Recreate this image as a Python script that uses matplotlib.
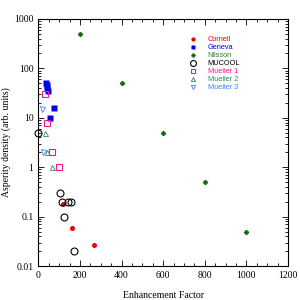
import numpy as np
import matplotlib.pyplot as plt
from matplotlib.ticker import MultipleLocator, LogLocator, NullFormatter

# Cornell
cornell_x = [117, 160, 268]
cornell_y = [0.18, 0.06, 0.027]
# Geneva
geneva_x = [38, 40, 42, 44, 58, 75]
geneva_y = [50, 45, 40, 35, 10, 16]
# Nilsson
nilsson_x = [200, 400, 600, 800, 1000]
nilsson_y = [500, 50, 5, 0.5, 0.05]
# MUCOOL
mucool_x = [0, 104, 115, 144, 157, 123, 170]
mucool_y = [5, 0.3, 0.2, 0.2, 0.2, 0.1, 0.02]
# Mueller 1
m1_x = [30, 43, 66, 101]
m1_y = [30, 8, 2, 1]
# Mueller 2
m2_x = [32, 40, 66]
m2_y = [5, 2, 1]
# Mueller 3
m3_x = [19, 24]
m3_y = [15, 2]

fig = plt.figure(figsize=(3, 3), dpi=100)
ax = fig.add_axes([0.128, 0.113, 0.832, 0.824])

ax.plot(cornell_x, cornell_y, 'o', color='#ee0000', ms=3.6, mec='none', label='Cornell', clip_on=False)
ax.plot(geneva_x, geneva_y, 's', color='#0000ee', ms=4.2, mec='none', label='Geneva', clip_on=False)
ax.plot(nilsson_x, nilsson_y, 'P', color='#006400', ms=3.4, mec='#006400', mew=0.3, label='Nilsson', clip_on=False)
ax.plot(mucool_x, mucool_y, 'o', mfc='none', mec='black', mew=0.8, ms=5, label='MUCOOL', clip_on=False)
ax.plot(m1_x, m1_y, 's', mfc='none', mec='#ff1493', mew=0.8, ms=3.8, label='Mueller 1', clip_on=False)
ax.plot(m2_x, m2_y, '^', mfc='none', mec='#2e8b57', mew=0.6, ms=3.6, label='Mueller 2', clip_on=False)
ax.plot(m3_x, m3_y, 'v', mfc='none', mec='#3a7fff', mew=0.6, ms=3.6, label='Mueller 3', clip_on=False)

ax.set_yscale('log')
ax.set_xlim(0, 1200)
ax.set_ylim(0.01, 1000)
ax.xaxis.set_major_locator(MultipleLocator(200))
ax.xaxis.set_minor_locator(MultipleLocator(50))
ax.yaxis.set_minor_locator(LogLocator(base=10, subs=np.arange(2, 10), numticks=10))
ax.yaxis.set_minor_formatter(NullFormatter())
ax.set_yticks([0.01, 0.1, 1, 10, 100, 1000])
ax.set_yticklabels(['0.01', '0.1', '1', '10', '100', '1000'])

ax.tick_params(which='both', direction='in', top=True, right=True, labelsize=7, width=0.6)
ax.tick_params(which='major', length=4)
ax.tick_params(which='minor', length=2)
for lab in ax.get_xticklabels() + ax.get_yticklabels():
    lab.set_fontfamily('Liberation Serif')
for s in ax.spines.values():
    s.set_linewidth(0.8)

ax.set_xlabel('Enhancement Factor', fontsize=7, family='Liberation Serif', labelpad=8)
ax.set_ylabel('Asperity density (arb. units)', fontsize=7, family='Liberation Serif', labelpad=2)

leg = ax.legend(loc='upper left', bbox_to_anchor=(0.592, 0.943), frameon=False,
                prop={'family': 'Liberation Sans', 'size': 5.3}, markerscale=0.85,
                handlelength=1, handletextpad=1.5, labelspacing=0.12, borderaxespad=0)
for t, c in zip(leg.get_texts(), ['#ee0000', '#0000ee', '#2e7d32', 'black', '#ff1493', '#2e8b57', '#3a7fff']):
    t.set_color(c)

fig.savefig('out.png', dpi=100)
